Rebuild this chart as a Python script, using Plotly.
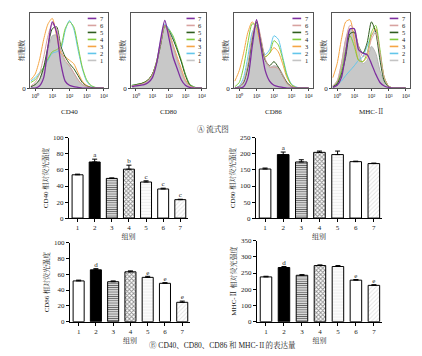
import plotly.graph_objects as go

W, H = 422, 356

# ---------------- data ----------------
groups = ["1", "2", "3", "4", "5", "6", "7"]
hist_names = ["CD40", "CD80", "CD86", "MHC-Ⅱ"]
group_colors = ["#c4c4c4", "#62c6ea", "#f5a544", "#80cc3c", "#2f5c1e", "#d8a2a0", "#7e2f9f"]

# log10 fluorescence positions of the histogram samples
log_x = [-0.25, 0, 0.25, 0.5, 0.75, 1.0, 1.25, 1.5, 1.75, 2.0, 2.25, 2.5, 2.75, 3.0, 3.25, 3.5, 3.75, 4.0]
decade_ticks = [1, 10, 100, 1000, 10000]
decade_labels = ["10⁰", "10¹", "10²", "10³", "10⁴"]

# cell counts (relative) per group 1..7
cd40_counts = [
    [2, 5, 12, 30, 55, 75, 76, 50, 38, 32, 22, 12, 5, 2, 1, 0, 0, 0],
    [10, 15, 22, 30, 40, 50, 52, 56, 82, 97, 85, 55, 28, 10, 3, 1, 0, 0],
    [12, 20, 40, 70, 92, 100, 75, 50, 45, 40, 35, 22, 10, 4, 1, 0, 0, 0],
    [8, 12, 20, 30, 42, 52, 55, 60, 85, 95, 88, 60, 30, 12, 4, 1, 0, 0],
    [2, 5, 12, 30, 60, 85, 88, 60, 45, 35, 28, 18, 8, 3, 1, 0, 0, 0],
    [3, 8, 20, 45, 75, 92, 85, 55, 40, 32, 22, 12, 5, 2, 0, 0, 0, 0],
    [0, 0, 3, 15, 60, 95, 80, 35, 10, 4, 2, 1, 0, 0, 0, 0, 0, 0],
]
cd80_counts = [
    [0, 2, 4, 6, 10, 18, 35, 62, 88, 80, 60, 40, 22, 10, 3, 1, 0, 0],
    [4, 5, 6, 8, 12, 20, 38, 68, 92, 85, 72, 55, 38, 20, 6, 2, 0, 0],
    [3, 4, 6, 8, 12, 20, 38, 66, 90, 78, 62, 45, 28, 12, 4, 1, 0, 0],
    [4, 5, 6, 8, 12, 20, 38, 64, 88, 84, 75, 58, 40, 20, 6, 2, 0, 0],
    [3, 5, 6, 8, 12, 20, 36, 62, 90, 82, 70, 55, 38, 18, 5, 1, 0, 0],
    [3, 4, 5, 7, 11, 19, 36, 64, 90, 80, 62, 42, 25, 10, 3, 1, 0, 0],
    [2, 3, 4, 5, 8, 15, 35, 70, 97, 72, 45, 28, 12, 4, 1, 0, 0, 0],
]
cd86_counts = [
    [0, 2, 8, 30, 70, 95, 70, 40, 30, 32, 30, 20, 8, 3, 1, 0, 0, 0],
    [0, 3, 15, 45, 80, 90, 65, 48, 55, 75, 70, 45, 20, 6, 2, 0, 0, 0],
    [10, 25, 50, 80, 95, 85, 60, 45, 50, 58, 52, 35, 15, 5, 1, 0, 0, 0],
    [2, 8, 30, 65, 92, 90, 65, 45, 50, 68, 62, 42, 18, 5, 1, 0, 0, 0],
    [0, 2, 8, 30, 70, 95, 68, 40, 32, 38, 30, 18, 8, 2, 0, 0, 0, 0],
    [0, 2, 10, 35, 75, 97, 72, 42, 30, 30, 28, 18, 6, 2, 0, 0, 0, 0],
    [0, 0, 2, 15, 60, 98, 60, 25, 10, 4, 2, 1, 0, 0, 0, 0, 0, 0],
]
mhc_counts = [
    [3, 10, 35, 70, 85, 80, 55, 35, 40, 60, 50, 25, 8, 2, 0, 0, 0, 0],
    [2, 5, 10, 18, 25, 32, 40, 45, 60, 75, 82, 45, 12, 3, 0, 0, 0, 0],
    [15, 35, 70, 95, 98, 70, 40, 38, 45, 75, 85, 50, 15, 3, 0, 0, 0, 0],
    [2, 8, 25, 55, 75, 60, 40, 38, 50, 80, 90, 55, 15, 3, 0, 0, 0, 0],
    [2, 6, 20, 45, 78, 80, 60, 50, 65, 95, 80, 40, 10, 2, 0, 0, 0, 0],
    [3, 10, 35, 70, 90, 85, 60, 45, 50, 70, 80, 50, 15, 3, 0, 0, 0, 0],
    [1, 4, 15, 50, 85, 85, 55, 50, 48, 35, 20, 8, 3, 1, 0, 0, 0, 0],
]

# relative fluorescence intensity (mean, upper error) per group
cd40_mean = [54, 70, 49.5, 61, 45, 36.3, 23]
cd40_err = [0.8, 3.5, 0.6, 5, 1.5, 1, 0.5]
cd40_sig = ["", "a", "", "b", "c", "c", "c"]
cd80_mean = [153, 198, 175, 205, 198, 176, 170]
cd80_err = [3, 8, 7, 4, 11, 1.5, 1.5]
cd80_sig = ["", "a", "", "", "", "", ""]
cd86_mean = [51.5, 65.5, 50.5, 63, 56, 48.5, 24.5]
cd86_err = [1, 1.5, 1, 1.2, 1.3, 0.8, 1.5]
cd86_sig = ["", "d", "", "", "e", "e", "e"]
mhc_mean = [238, 267, 243, 273, 270, 228, 212]
mhc_err = [2, 3, 2, 2, 3, 2, 2]
mhc_sig = ["", "d", "", "", "", "e", "e"]
mhc_ticks = [0, 100, 200, 250, 300, 350]

# ---------------- style ----------------
FONT = "Liberation Serif, Noto Serif CJK SC, Noto Sans CJK SC, serif"
bar_bg = ["white", "black", "#5e5e5e", "#8c8c8c", "#eeeeee", "white", "#e2e2e2"]
bar_shape = ["", "", "-", "x", "-", "|", "/"]
bar_fg = ["black", "black", "#1e1e1e", "black", "#888888", "#555555", "#7a7a7a"]
bar_size = [4, 4, 2.2, 3, 3, 3.2, 3]
bar_solid = [0.3, 0.3, 0.5, 0.5, 0.5, 0.3, 0.3]


def px_x(a, b):
    return [a / W, b / W]


def px_y(top, bottom):
    return [1 - bottom / H, 1 - top / H]


def mhc_scale(v):
    # segmented axis: 0-200 compressed to half, above 200 linear
    return v / 2 if v <= 200 else 100 + (v - 200)


fig = go.Figure()
layout = dict(
    width=W, height=H, margin=dict(l=0, r=0, t=0, b=0),
    paper_bgcolor="white", plot_bgcolor="white", showlegend=False,
    font=dict(family=FONT, size=7, color="#222"),
)
annotations = []
shapes = []

# ---------- histograms ----------
hist_dom = [(30, 108), (131, 206), (234, 313), (332, 410)]
hist_data = [cd40_counts, cd80_counts, cd86_counts, mhc_counts]
xs = [10 ** v for v in log_x]
for k in range(4):
    ax = k + 1
    sfx = "" if ax == 1 else str(ax)
    for gi in range(7):
        tr = dict(
            x=xs, y=hist_data[k][gi], mode="lines",
            line=dict(color=group_colors[gi], width=1.3 if gi == 6 else 1, shape="spline", smoothing=0.7),
            xaxis="x" + sfx, yaxis="y" + sfx, name=groups[gi], hoverinfo="skip",
        )
        if gi == 0:
            tr["fill"] = "tozeroy"
            tr["fillcolor"] = "#c8c8c8"
            tr["line"]["color"] = "#b4b4b4"
        fig.add_trace(go.Scatter(**tr))
    a, b = hist_dom[k]
    layout["xaxis" + sfx] = dict(
        domain=px_x(a, b), anchor="y" + sfx, type="log", range=[-0.3, 4.25],
        tickvals=decade_ticks, ticktext=decade_labels,
        ticks="outside", ticklen=2, tickwidth=0.6, tickcolor="#444",
        showline=True, mirror=True, linecolor="#555", linewidth=0.7,
        showgrid=False, zeroline=False, tickfont=dict(size=6),
    )
    layout["yaxis" + sfx] = dict(
        domain=px_y(9, 86), anchor="x" + sfx, range=[0, 108],
        tickvals=[0], ticks="outside", ticklen=2, tickwidth=0.6, tickcolor="#444",
        showline=True, mirror=True, linecolor="#555", linewidth=0.7,
        showgrid=False, zeroline=False, tickfont=dict(size=7),
    )
    # y title
    annotations.append(dict(text="细胞数", textangle=-90, x=(a - 8) / W, y=1 - 48 / H,
                            xref="paper", yref="paper", xanchor="center", yanchor="middle",
                            showarrow=False, font=dict(size=7)))
    # panel label
    annotations.append(dict(text=hist_names[k], x=(a + b) / 2 / W, y=1 - 110 / H,
                            xref="paper", yref="paper", xanchor="center", yanchor="middle",
                            showarrow=False, font=dict(size=7)))
    # manual legend 7..1
    for r in range(7):
        gi = 6 - r
        yy = 0.925 - r * 0.093
        shapes.append(dict(type="line", xref="x" + sfx + " domain", yref="y" + sfx + " domain",
                           x0=0.74, x1=0.85, y0=yy, y1=yy,
                           line=dict(color=group_colors[gi], width=1.6)))
        annotations.append(dict(text=groups[gi], x=0.87, y=yy, xref="x" + sfx + " domain",
                                yref="y" + sfx + " domain", xanchor="left", yanchor="middle",
                                showarrow=False, font=dict(size=6.5)))

annotations.append(dict(text="Ⓐ 流式图", x=213 / W, y=1 - 128 / H, xref="paper", yref="paper",
                        xanchor="center", yanchor="middle", showarrow=False, font=dict(size=7.5)))

# ---------- bar charts ----------
bar_specs = [
    ("CD40 相对荧光强度", cd40_mean, cd40_err, cd40_sig, (69, 188), (137, 219), 100, 20, None),
    ("CD80 相对荧光强度", cd80_mean, cd80_err, cd80_sig, (256, 382), (137, 219), 250, 50, None),
    ("CD86 相对荧光强度", cd86_mean, cd86_err, cd86_sig, (70, 190), (244, 325), 100, 20, None),
    ("MHC-Ⅱ 相对荧光强度", mhc_mean, mhc_err, mhc_sig, (257, 382), (242, 325), 350, 50, mhc_scale),
]
xcat = [1, 2, 3, 4, 5, 6, 7]
for j, (title, mean, err, sig, (a, b), (t, bt), ymax, dt, scale) in enumerate(bar_specs):
    ax = 5 + j
    sfx = str(ax)
    if scale:
        yv = [scale(m) for m in mean]
        ev = [scale(m + e) - scale(m) for m, e in zip(mean, err)]
        ymx = scale(ymax)
    else:
        yv, ev, ymx = mean, err, ymax
    fig.add_trace(go.Bar(
        x=xcat, y=yv, width=0.64, xaxis="x" + sfx, yaxis="y" + sfx,
        marker=dict(color=bar_bg, line=dict(color="black", width=1),
                    pattern=dict(shape=bar_shape, fgcolor=bar_fg, size=bar_size,
                                 solidity=bar_solid, fillmode="replace")),
        error_y=dict(type="data", symmetric=False, array=ev, arrayminus=[0] * 7,
                     width=2.5, thickness=1, color="black"),
        hoverinfo="skip",
    ))
    fig.add_trace(go.Scatter(
        x=xcat, y=[v + e for v, e in zip(yv, ev)], mode="text", text=sig,
        textposition="top center", textfont=dict(size=7, color="#222"),
        xaxis="x" + sfx, yaxis="y" + sfx, hoverinfo="skip",
    ))
    ydict = dict(domain=px_y(t, bt), anchor="x" + sfx, range=[0, ymx],
                 ticks="outside", ticklen=3, tickwidth=1, tickcolor="black",
                 showline=True, linecolor="black", linewidth=1, showgrid=False, zeroline=False,
                 title=dict(text=title, standoff=3, font=dict(size=7)), tickfont=dict(size=7))
    if scale:
        ydict["tickvals"] = [scale(v) for v in mhc_ticks]
        ydict["ticktext"] = [str(v) for v in mhc_ticks]
    else:
        ydict["dtick"] = dt
    layout["yaxis" + sfx] = ydict
    layout["xaxis" + sfx] = dict(
        domain=px_x(a, b), anchor="y" + sfx, range=[0.5, 7.45],
        tickvals=xcat, ticktext=groups, ticks="outside", ticklen=3, tickwidth=1, tickcolor="black",
        showline=True, linecolor="black", linewidth=1, showgrid=False, zeroline=False,
        title=dict(text="组别", standoff=2, font=dict(size=7)), tickfont=dict(size=7),
    )

annotations.append(dict(text="Ⓑ CD40、CD80、CD86 和 MHC-Ⅱ的表达量", x=222 / W, y=1 - 349 / H,
                        xref="paper", yref="paper", xanchor="center", yanchor="middle",
                        showarrow=False, font=dict(size=7.5)))

layout["annotations"] = annotations
layout["shapes"] = shapes
fig.update_layout(**layout)
fig.write_html("out.html", config={"displayModeBar": False},
               post_script="document.body.style.margin='0';")
